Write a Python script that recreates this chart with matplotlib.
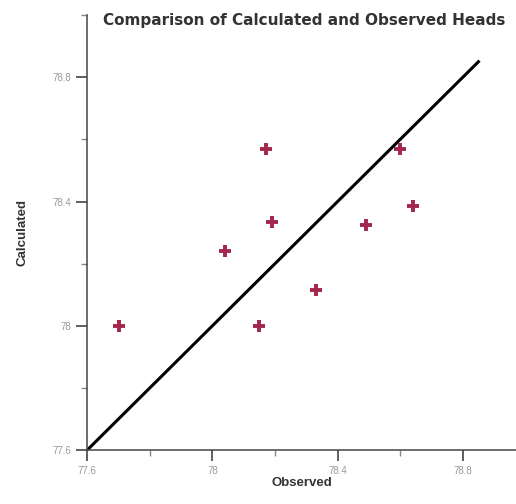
import matplotlib.pyplot as plt
from matplotlib.ticker import MultipleLocator, FuncFormatter

plt.rcParams['font.family'] = ['Liberation Sans', 'DejaVu Sans']

observed = [77.70, 78.15, 78.04, 78.19, 78.17, 78.33, 78.49, 78.60, 78.64]
calculated = [78.00, 78.00, 78.24, 78.335, 78.57, 78.115, 78.325, 78.57, 78.385]
line_ends = [77.6, 78.85]
major_ticks = [77.6, 78.0, 78.4, 78.8]

fig = plt.figure(figsize=(5.16, 5.04), dpi=100)
ax = fig.add_axes([0.169, 0.107, 0.831, 0.863])

ax.plot(line_ends, line_ends, color="black", lw=2.2, zorder=2)
ax.scatter(observed, calculated, marker="+", s=85, linewidths=2.8,
           color="#a3264c", zorder=3)

ax.set_xlim(77.6, 78.97)
ax.set_ylim(77.6, 79.0)
ax.set_xticks(major_ticks)
ax.set_yticks(major_ticks)
ax.xaxis.set_minor_locator(MultipleLocator(0.2))
ax.yaxis.set_minor_locator(MultipleLocator(0.2))
fmt = FuncFormatter(lambda v, p: "{:g}".format(round(v, 1)))
ax.xaxis.set_major_formatter(fmt)
ax.yaxis.set_major_formatter(fmt)
ax.tick_params(which="major", length=8, width=1.2, color="#444444",
               labelsize=7, labelcolor="#999999", direction="out")
ax.tick_params(which="minor", length=4, width=1, color="#888888")

for s in ["top", "right"]:
    ax.spines[s].set_visible(False)
for s in ["left", "bottom"]:
    ax.spines[s].set_linewidth(1.1)
    ax.spines[s].set_color("#444444")

ax.set_xlabel("Observed", fontsize=9.5, fontweight="bold", color="#333333",
              labelpad=1)
ax.set_ylabel("Calculated", fontsize=9.5, fontweight="bold", color="#333333",
              labelpad=17)
fig.text(0.589, 0.96, "Comparison of Calculated and Observed Heads",
         ha="center", va="center", fontsize=11, fontweight="bold",
         family="DejaVu Sans", color="#333333")

fig.savefig("out.png", dpi=100, facecolor="white")
